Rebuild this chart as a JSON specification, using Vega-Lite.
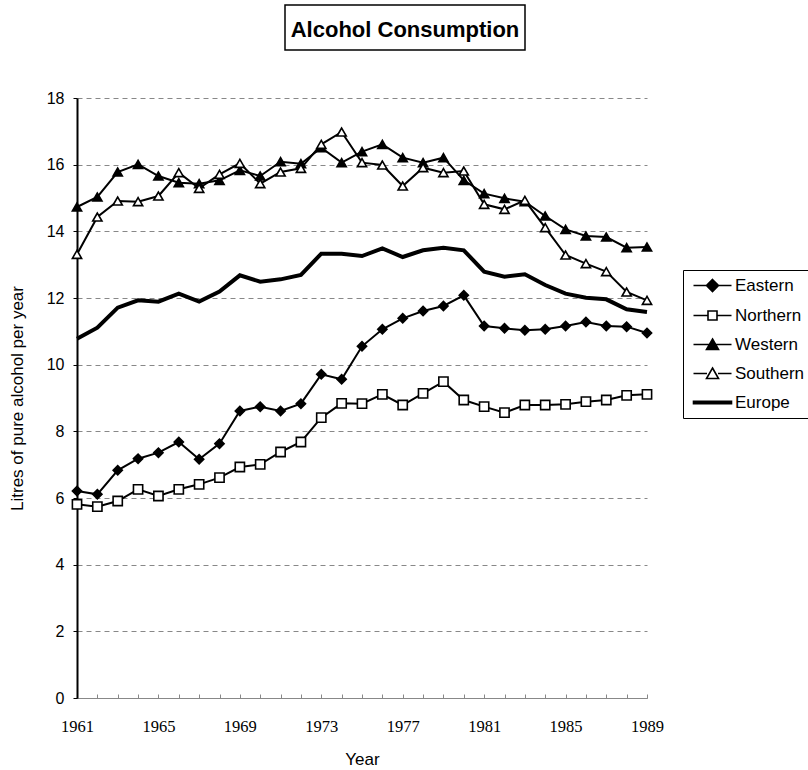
{
  "$schema": "https://vega.github.io/schema/vega-lite/v6.json",
  "padding": {"left": 8, "top": 4, "right": 0, "bottom": 0},
  "spacing": 39,
  "config": {
    "view": {"stroke": null},
    "font": "Liberation Sans",
    "axis": {"labelColor": "black", "titleColor": "black", "titleFont": "Liberation Sans", "titleFontWeight": "normal", "titleFontSize": 17},
    "legend": {
      "orient": "none",
      "legendX": 606,
      "legendY": 265,
      "title": null,
      "strokeColor": "black",
      "fillColor": "white",
      "padding": 7,
      "symbolSize": 100,
      "symbolOpacity": 1,
      "symbolStrokeWidth": 1.6,
      "labelFont": "Liberation Sans",
      "labelFontSize": 17,
      "labelColor": "black",
      "labelOffset": 28,
      "rowPadding": 11,
      "labelLimit": 200
    }
  },
  "vconcat": [
    {
      "spacing": 20,
      "hconcat": [
        {
          "width": 187,
          "height": 45,
          "data": {"values": []},
          "mark": {"type": "point", "opacity": 0}
        },
        {
          "width": 240,
          "height": 45,
          "view": {"stroke": "black", "strokeWidth": 1.5},
          "data": {"values": [{"t": "Alcohol Consumption"}]},
          "mark": {"type": "text", "font": "Liberation Sans", "fontSize": 22, "fontWeight": "bold", "align": "center", "baseline": "middle", "dy": 2, "color": "black"},
          "encoding": {"text": {"field": "t", "type": "nominal"}}
        }
      ]
    },
    {
      "width": 570,
      "height": 600,
      "data": {"values": [
        {"Year": 1961, "series": "Eastern", "value": 6.21},
        {"Year": 1962, "series": "Eastern", "value": 6.11},
        {"Year": 1963, "series": "Eastern", "value": 6.83},
        {"Year": 1964, "series": "Eastern", "value": 7.18},
        {"Year": 1965, "series": "Eastern", "value": 7.36},
        {"Year": 1966, "series": "Eastern", "value": 7.68},
        {"Year": 1967, "series": "Eastern", "value": 7.16},
        {"Year": 1968, "series": "Eastern", "value": 7.63},
        {"Year": 1969, "series": "Eastern", "value": 8.61},
        {"Year": 1970, "series": "Eastern", "value": 8.74},
        {"Year": 1971, "series": "Eastern", "value": 8.61},
        {"Year": 1972, "series": "Eastern", "value": 8.83},
        {"Year": 1973, "series": "Eastern", "value": 9.71},
        {"Year": 1974, "series": "Eastern", "value": 9.56},
        {"Year": 1975, "series": "Eastern", "value": 10.55},
        {"Year": 1976, "series": "Eastern", "value": 11.06},
        {"Year": 1977, "series": "Eastern", "value": 11.39},
        {"Year": 1978, "series": "Eastern", "value": 11.61},
        {"Year": 1979, "series": "Eastern", "value": 11.76},
        {"Year": 1980, "series": "Eastern", "value": 12.08},
        {"Year": 1981, "series": "Eastern", "value": 11.16},
        {"Year": 1982, "series": "Eastern", "value": 11.09},
        {"Year": 1983, "series": "Eastern", "value": 11.03},
        {"Year": 1984, "series": "Eastern", "value": 11.06},
        {"Year": 1985, "series": "Eastern", "value": 11.16},
        {"Year": 1986, "series": "Eastern", "value": 11.28},
        {"Year": 1987, "series": "Eastern", "value": 11.16},
        {"Year": 1988, "series": "Eastern", "value": 11.14},
        {"Year": 1989, "series": "Eastern", "value": 10.95},
        {"Year": 1961, "series": "Northern", "value": 5.81},
        {"Year": 1962, "series": "Northern", "value": 5.74},
        {"Year": 1963, "series": "Northern", "value": 5.91},
        {"Year": 1964, "series": "Northern", "value": 6.26},
        {"Year": 1965, "series": "Northern", "value": 6.06},
        {"Year": 1966, "series": "Northern", "value": 6.26},
        {"Year": 1967, "series": "Northern", "value": 6.41},
        {"Year": 1968, "series": "Northern", "value": 6.61},
        {"Year": 1969, "series": "Northern", "value": 6.93},
        {"Year": 1970, "series": "Northern", "value": 7.01},
        {"Year": 1971, "series": "Northern", "value": 7.38},
        {"Year": 1972, "series": "Northern", "value": 7.68},
        {"Year": 1973, "series": "Northern", "value": 8.41},
        {"Year": 1974, "series": "Northern", "value": 8.84},
        {"Year": 1975, "series": "Northern", "value": 8.83},
        {"Year": 1976, "series": "Northern", "value": 9.11},
        {"Year": 1977, "series": "Northern", "value": 8.79},
        {"Year": 1978, "series": "Northern", "value": 9.14},
        {"Year": 1979, "series": "Northern", "value": 9.49},
        {"Year": 1980, "series": "Northern", "value": 8.94},
        {"Year": 1981, "series": "Northern", "value": 8.74},
        {"Year": 1982, "series": "Northern", "value": 8.56},
        {"Year": 1983, "series": "Northern", "value": 8.79},
        {"Year": 1984, "series": "Northern", "value": 8.79},
        {"Year": 1985, "series": "Northern", "value": 8.81},
        {"Year": 1986, "series": "Northern", "value": 8.89},
        {"Year": 1987, "series": "Northern", "value": 8.94},
        {"Year": 1988, "series": "Northern", "value": 9.08},
        {"Year": 1989, "series": "Northern", "value": 9.11},
        {"Year": 1961, "series": "Western", "value": 14.73},
        {"Year": 1962, "series": "Western", "value": 15.03},
        {"Year": 1963, "series": "Western", "value": 15.78},
        {"Year": 1964, "series": "Western", "value": 16.01},
        {"Year": 1965, "series": "Western", "value": 15.66},
        {"Year": 1966, "series": "Western", "value": 15.46},
        {"Year": 1967, "series": "Western", "value": 15.43},
        {"Year": 1968, "series": "Western", "value": 15.53},
        {"Year": 1969, "series": "Western", "value": 15.83},
        {"Year": 1970, "series": "Western", "value": 15.66},
        {"Year": 1971, "series": "Western", "value": 16.09},
        {"Year": 1972, "series": "Western", "value": 16.03},
        {"Year": 1973, "series": "Western", "value": 16.51},
        {"Year": 1974, "series": "Western", "value": 16.06},
        {"Year": 1975, "series": "Western", "value": 16.39},
        {"Year": 1976, "series": "Western", "value": 16.61},
        {"Year": 1977, "series": "Western", "value": 16.21},
        {"Year": 1978, "series": "Western", "value": 16.06},
        {"Year": 1979, "series": "Western", "value": 16.21},
        {"Year": 1980, "series": "Western", "value": 15.53},
        {"Year": 1981, "series": "Western", "value": 15.13},
        {"Year": 1982, "series": "Western", "value": 14.99},
        {"Year": 1983, "series": "Western", "value": 14.89},
        {"Year": 1984, "series": "Western", "value": 14.46},
        {"Year": 1985, "series": "Western", "value": 14.06},
        {"Year": 1986, "series": "Western", "value": 13.86},
        {"Year": 1987, "series": "Western", "value": 13.83},
        {"Year": 1988, "series": "Western", "value": 13.51},
        {"Year": 1989, "series": "Western", "value": 13.53},
        {"Year": 1961, "series": "Southern", "value": 13.31},
        {"Year": 1962, "series": "Southern", "value": 14.43},
        {"Year": 1963, "series": "Southern", "value": 14.91},
        {"Year": 1964, "series": "Southern", "value": 14.89},
        {"Year": 1965, "series": "Southern", "value": 15.06},
        {"Year": 1966, "series": "Southern", "value": 15.76},
        {"Year": 1967, "series": "Southern", "value": 15.29},
        {"Year": 1968, "series": "Southern", "value": 15.71},
        {"Year": 1969, "series": "Southern", "value": 16.04},
        {"Year": 1970, "series": "Southern", "value": 15.43},
        {"Year": 1971, "series": "Southern", "value": 15.78},
        {"Year": 1972, "series": "Southern", "value": 15.89},
        {"Year": 1973, "series": "Southern", "value": 16.61},
        {"Year": 1974, "series": "Southern", "value": 16.98},
        {"Year": 1975, "series": "Southern", "value": 16.06},
        {"Year": 1976, "series": "Southern", "value": 15.99},
        {"Year": 1977, "series": "Southern", "value": 15.36},
        {"Year": 1978, "series": "Southern", "value": 15.91},
        {"Year": 1979, "series": "Southern", "value": 15.76},
        {"Year": 1980, "series": "Southern", "value": 15.81},
        {"Year": 1981, "series": "Southern", "value": 14.81},
        {"Year": 1982, "series": "Southern", "value": 14.66},
        {"Year": 1983, "series": "Southern", "value": 14.93},
        {"Year": 1984, "series": "Southern", "value": 14.11},
        {"Year": 1985, "series": "Southern", "value": 13.29},
        {"Year": 1986, "series": "Southern", "value": 13.03},
        {"Year": 1987, "series": "Southern", "value": 12.79},
        {"Year": 1988, "series": "Southern", "value": 12.18},
        {"Year": 1989, "series": "Southern", "value": 11.93},
        {"Year": 1961, "series": "Europe", "value": 10.78},
        {"Year": 1962, "series": "Europe", "value": 11.11},
        {"Year": 1963, "series": "Europe", "value": 11.71},
        {"Year": 1964, "series": "Europe", "value": 11.93},
        {"Year": 1965, "series": "Europe", "value": 11.89},
        {"Year": 1966, "series": "Europe", "value": 12.13},
        {"Year": 1967, "series": "Europe", "value": 11.89},
        {"Year": 1968, "series": "Europe", "value": 12.19},
        {"Year": 1969, "series": "Europe", "value": 12.68},
        {"Year": 1970, "series": "Europe", "value": 12.49},
        {"Year": 1971, "series": "Europe", "value": 12.56},
        {"Year": 1972, "series": "Europe", "value": 12.69},
        {"Year": 1973, "series": "Europe", "value": 13.33},
        {"Year": 1974, "series": "Europe", "value": 13.33},
        {"Year": 1975, "series": "Europe", "value": 13.26},
        {"Year": 1976, "series": "Europe", "value": 13.49},
        {"Year": 1977, "series": "Europe", "value": 13.23},
        {"Year": 1978, "series": "Europe", "value": 13.43},
        {"Year": 1979, "series": "Europe", "value": 13.51},
        {"Year": 1980, "series": "Europe", "value": 13.43},
        {"Year": 1981, "series": "Europe", "value": 12.79},
        {"Year": 1982, "series": "Europe", "value": 12.64},
        {"Year": 1983, "series": "Europe", "value": 12.71},
        {"Year": 1984, "series": "Europe", "value": 12.39},
        {"Year": 1985, "series": "Europe", "value": 12.13},
        {"Year": 1986, "series": "Europe", "value": 12.01},
        {"Year": 1987, "series": "Europe", "value": 11.96},
        {"Year": 1988, "series": "Europe", "value": 11.66},
        {"Year": 1989, "series": "Europe", "value": 11.58}
      ]},
      "encoding": {
        "x": {
          "field": "Year", "type": "quantitative",
          "scale": {"domain": [1961, 1989], "nice": false, "zero": false},
          "axis": {
            "title": "Year",
            "values": [1961,1962,1963,1964,1965,1966,1967,1968,1969,1970,1971,1972,1973,1974,1975,1976,1977,1978,1979,1980,1981,1982,1983,1984,1985,1986,1987,1988,1989],
            "labelExpr": "(datum.value - 1961) % 4 == 0 ? datum.value : ''",
            "grid": false,
            "labelFont": "Liberation Serif",
            "labelFontSize": 16.5,
            "labelPadding": 24,
            "tickSize": -4,
            "tickColor": "#888888",
            "domainColor": "#888888",
            "domainWidth": 1,
            "titlePadding": 17,
            "labelFlush": false,
            "labelOverlap": false
          }
        },
        "y": {
          "field": "value", "type": "quantitative",
          "scale": {"domain": [0, 18], "nice": false, "zero": true},
          "axis": {
            "title": "Litres of pure alcohol per year",
            "values": [0, 2, 4, 6, 8, 10, 12, 14, 16, 18],
            "grid": true,
            "gridDash": [5, 4],
            "gridColor": "#888888",
            "gridWidth": 1,
            "domainColor": "black",
            "domainWidth": 2,
            "tickSize": 4,
            "tickColor": "black",
            "labelFontSize": 16,
            "labelPadding": 9,
            "titlePadding": 20
          }
        }
      },
      "layer": [
        {
          "mark": {"type": "line", "color": "black"},
          "encoding": {
            "detail": {"field": "series", "type": "nominal"},
            "strokeWidth": {"condition": {"test": "datum.series === 'Europe'", "value": 4}, "value": 2}
          }
        },
        {
          "transform": [{"filter": "datum.series !== 'Europe'"}],
          "mark": {"type": "point", "stroke": "black", "strokeWidth": 1.6, "opacity": 1, "size": 85},
          "encoding": {
            "shape": {
              "condition": [
                {"test": "datum.series === 'Eastern'", "value": "diamond"},
                {"test": "datum.series === 'Northern'", "value": "square"}
              ],
              "value": "triangle-up"
            },
            "fill": {"condition": {"test": "datum.series === 'Northern' || datum.series === 'Southern'", "value": "white"}, "value": "black"}
          }
        },
        {
          "transform": [{"filter": "datum.Year === 1961"}],
          "mark": {"type": "point", "stroke": "black", "opacity": 0},
          "encoding": {
            "shape": {
              "field": "series", "type": "nominal",
              "scale": {
                "domain": ["Eastern", "Northern", "Western", "Southern", "Europe"],
                "range": [
                  "M-1,0H6.6M2.8,-1.2L4,0L2.8,1.2L1.6,0Z",
                  "M-1,0H1.9M3.7,0H6.6M1.9,-0.9H3.7V0.9H1.9Z",
                  "M-1,0H6.6M2.8,-1.1L4,1H1.6Z",
                  "M-1,0H1.7M3.9,0H6.6M2.8,-1.1L4,1H1.6Z",
                  "M-1,-0.25H6.6V0.25H-1Z"
                ]
              },
              "legend": {
                "encode": {"symbols": {"stroke": {"value": "black"}}}
              }
            },
            "fill": {
              "field": "series", "type": "nominal",
              "scale": {"domain": ["Eastern", "Northern", "Western", "Southern", "Europe"], "range": ["black", "white", "black", "white", "black"]},
              "legend": {
                "encode": {"symbols": {"stroke": {"value": "black"}}}
              }
            }
          }
        }
      ]
    }
  ]
}
